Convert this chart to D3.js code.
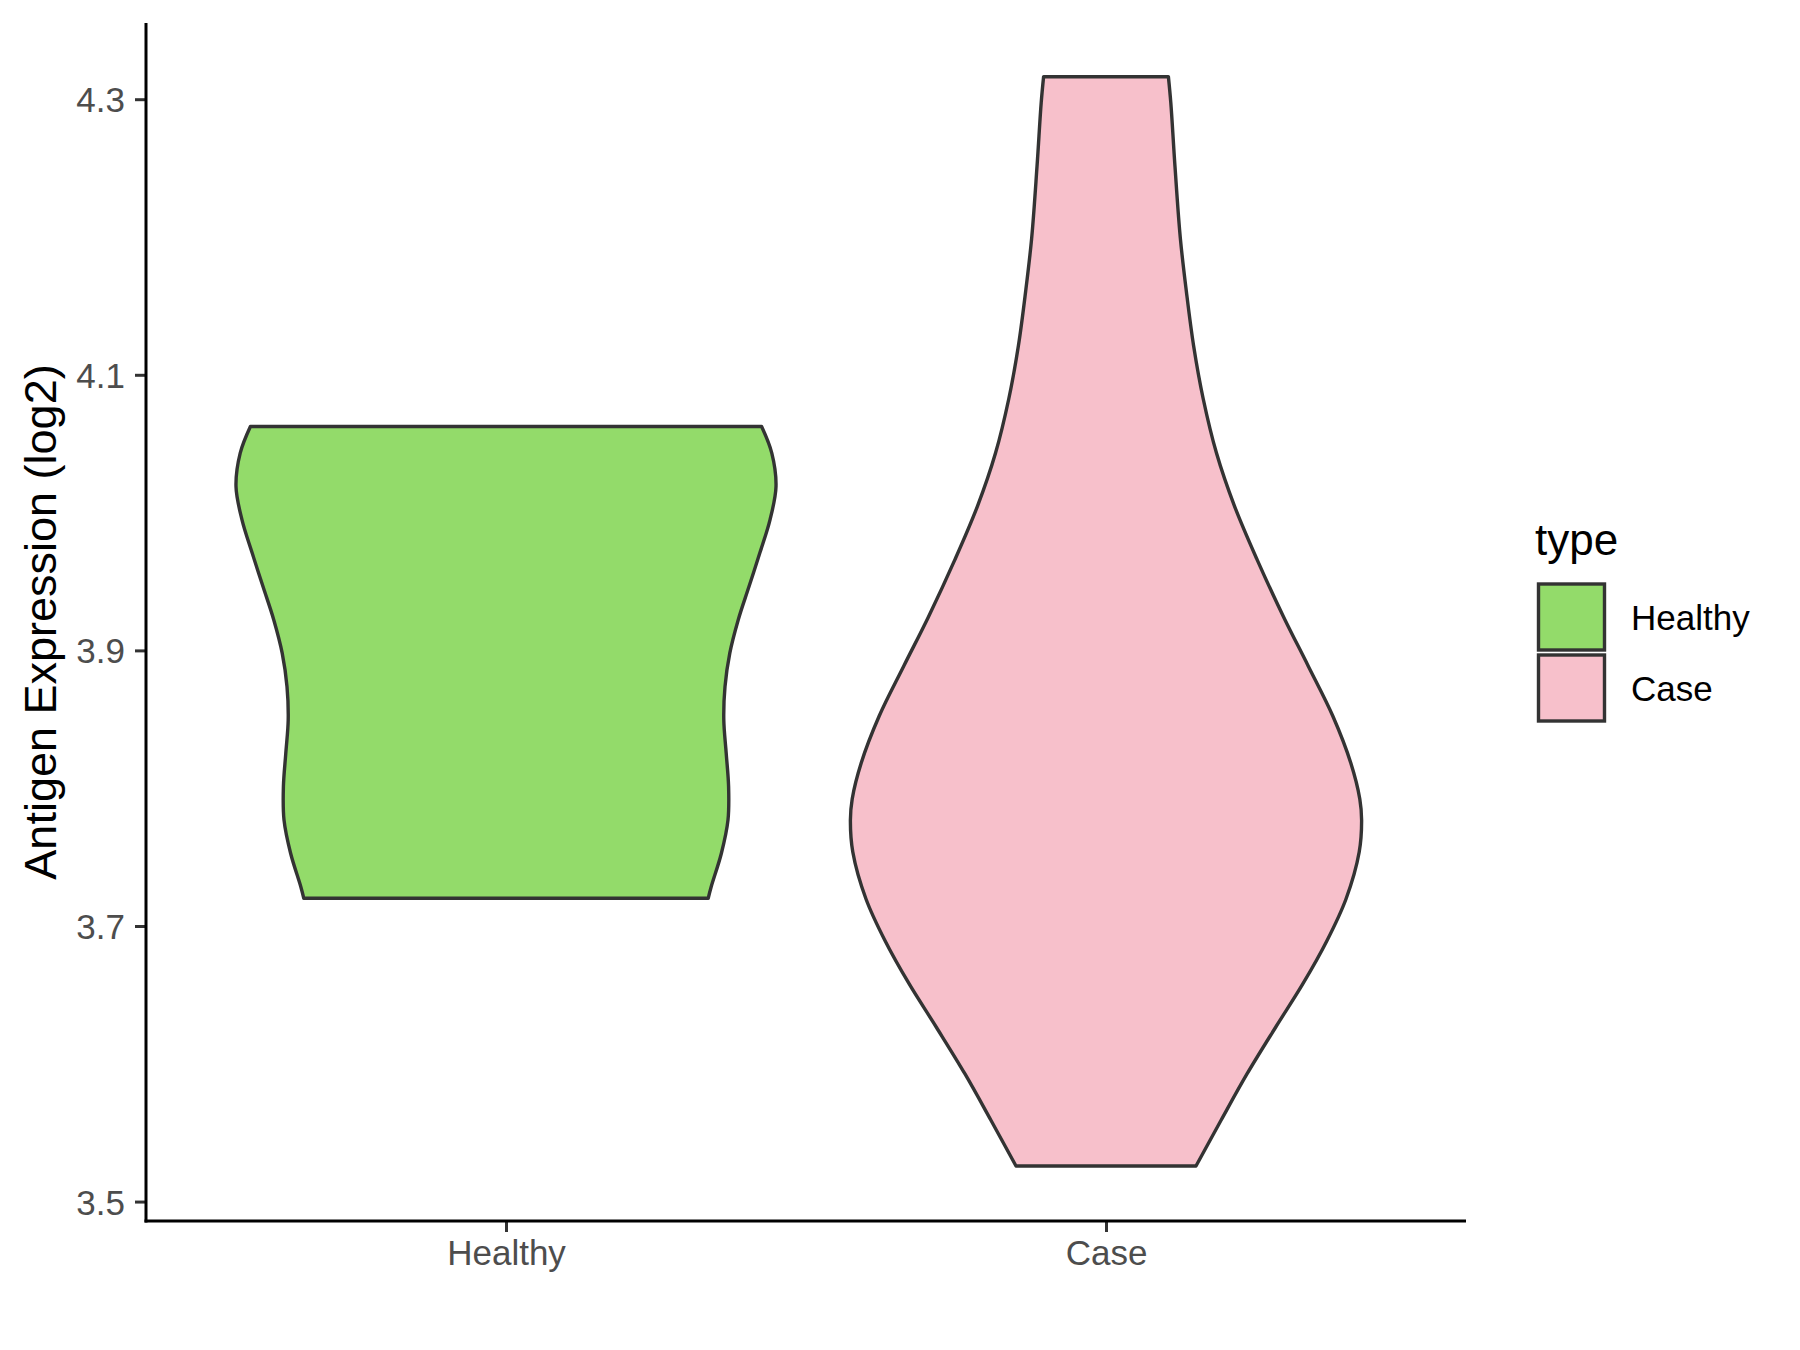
<!DOCTYPE html>
<html>
<head>
<meta charset="utf-8">
<script src="https://cdn.jsdelivr.net/npm/d3@7"></script>
<style>
  html, body { margin: 0; padding: 0; background: #ffffff; }
  svg { display: block; }
  text { font-family: "Liberation Sans", Arial, sans-serif; }
</style>
</head>
<body>
<script>
// ---- data ----
const categories = ["Healthy", "Case"];
const fills = ["#93DB6A", "#F7C0CB"];
const yTicks = [3.5, 3.7, 3.9, 4.1, 4.3];

// violin outlines: expression value (log2) and half-width (in category units)
const healthyValues = [4.0625, 4.0432, 4.0189, 3.9947, 3.9706, 3.9463, 3.9221, 3.8980, 3.8737, 3.8495, 3.8254, 3.8011, 3.7770, 3.7528, 3.7285, 3.7201];
const healthyWidths = [0.426, 0.443, 0.450, 0.440, 0.423, 0.405, 0.387, 0.373, 0.365, 0.363, 0.367, 0.371, 0.370, 0.359, 0.342, 0.337];
const caseValues = [4.3163, 4.2975, 4.2510, 4.1987, 4.1603, 4.1211, 4.0826, 4.0434, 4.0049, 3.9657, 3.9243, 3.8887, 3.8524, 3.8183, 3.7922, 3.7769, 3.7537, 3.7196, 3.6891, 3.6579, 3.6267, 3.5926, 3.5592, 3.5258];
const caseWidths = [0.104, 0.108, 0.115, 0.124, 0.134, 0.146, 0.162, 0.184, 0.214, 0.252, 0.296, 0.337, 0.378, 0.408, 0.423, 0.426, 0.422, 0.400, 0.368, 0.328, 0.283, 0.235, 0.192, 0.150];

const W = 1800, H = 1350;
const panel = { left: 146, right: 1466, top: 23, bottom: 1221 };

const svg = d3.select("body").append("svg").attr("width", W).attr("height", H);

const y = d3.scaleLinear().domain([3.4859, 4.3553]).range([panel.bottom, panel.top]);
const x = d3.scalePoint().domain(categories).range([panel.left, panel.right]).padding(0.6);
const step = x.step();

const violins = [
  { cat: "Healthy", fill: fills[0], pts: healthyValues.map((v, i) => ({ v, w: healthyWidths[i] })) },
  { cat: "Case", fill: fills[1], pts: caseValues.map((v, i) => ({ v, w: caseWidths[i] })) }
];

const area = d3.area()
  .curve(d3.curveCatmullRom.alpha(0.5));

violins.forEach(vn => {
  const cx = x(vn.cat);
  area.y(d => y(d.v))
      .x0(d => cx - d.w * step)
      .x1(d => cx + d.w * step);
  svg.append("path")
    .attr("d", area(vn.pts))
    .attr("fill", vn.fill)
    .attr("stroke", "#333333")
    .attr("stroke-width", 3.4)
    .attr("stroke-linejoin", "round");
});

// ---- axes ----
const yAxis = d3.axisLeft(y).tickValues(yTicks).tickFormat(d3.format(".1f")).tickSize(11).tickSizeOuter(0).tickPadding(10);
const gy = svg.append("g").attr("transform", `translate(${panel.left},0)`).call(yAxis);
gy.select(".domain").remove();
gy.selectAll(".tick line").attr("stroke", "#333333").attr("stroke-width", 3);
gy.selectAll(".tick text").attr("fill", "#4D4D4D").style("font-size", "35px").attr("dy", "0.36em");

const xAxis = d3.axisBottom(x).tickSize(11).tickSizeOuter(0).tickPadding(8);
const gx = svg.append("g").attr("transform", `translate(0,${panel.bottom})`).call(xAxis);
gx.select(".domain").remove();
gx.selectAll(".tick line").attr("stroke", "#333333").attr("stroke-width", 3);
gx.selectAll(".tick text").attr("fill", "#4D4D4D").style("font-size", "35px").attr("dy", "0.71em");

// axis lines
svg.append("line").attr("x1", panel.left).attr("x2", panel.left).attr("y1", panel.top).attr("y2", panel.bottom + 1.5)
  .attr("stroke", "#000").attr("stroke-width", 3);
svg.append("line").attr("x1", panel.left - 1.5).attr("x2", panel.right).attr("y1", panel.bottom).attr("y2", panel.bottom)
  .attr("stroke", "#000").attr("stroke-width", 3);

// y title
svg.append("text")
  .attr("transform", `translate(56,${(panel.top + panel.bottom) / 2}) rotate(-90)`)
  .attr("text-anchor", "middle")
  .attr("fill", "#000")
  .style("font-size", "45px")
  .text("Antigen Expression (log2)");

// ---- legend ----
const lg = svg.append("g");
lg.append("text").attr("x", 1535).attr("y", 555).attr("fill", "#000").style("font-size", "44px").text("type");
categories.forEach((c, i) => {
  const ky = 584 + i * 71;
  lg.append("rect").attr("x", 1538.5).attr("y", ky).attr("width", 66).attr("height", 66)
    .attr("fill", fills[i]).attr("stroke", "#333333").attr("stroke-width", 3.4);
  lg.append("text").attr("x", 1631).attr("y", ky + 33).attr("dy", "0.36em")
    .attr("fill", "#000").style("font-size", "35px").text(c);
});
</script>
</body>
</html>
